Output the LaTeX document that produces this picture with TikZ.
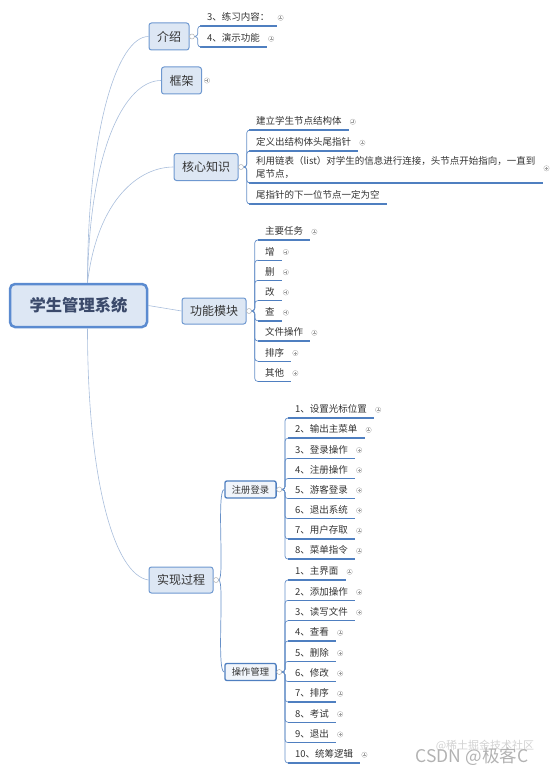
\documentclass[tikz,border=0pt]{standalone}
\usepackage{fontspec}
\newfontfamily\cjk{Noto Sans CJK SC}
\usetikzlibrary{positioning}

\definecolor{boxFill}{HTML}{DDE7F4}
\definecolor{subFill}{HTML}{F1F5FB}
\definecolor{rootEdge}{HTML}{5B8BD0}
\definecolor{topicEdge}{HTML}{6E98D0}
\definecolor{subEdge}{HTML}{4F7FC0}
\definecolor{rootText}{HTML}{3B4A6B}
\definecolor{inkGray}{HTML}{333333}
\definecolor{linkBlue}{HTML}{A9BEDC}
\definecolor{branchBlue}{HTML}{6790C8}
\definecolor{underBlue}{HTML}{4F7FC0}

\begin{document}
\begin{tikzpicture}
[x=1pt,y=-1pt,
  rootBox/.style={draw=rootEdge,line width=2.5pt,fill=boxFill,rounded corners=5pt,
    minimum width=137pt,minimum height=43pt,text=rootText,
    font=\cjk\fontsize{16.3}{18}\selectfont\bfseries},
  topicBox/.style={draw=topicEdge,line width=1pt,fill=boxFill,rounded corners=2.5pt,
    inner xsep=8pt,minimum height=27pt,text=inkGray,font=\cjk\fontsize{12}{14}\selectfont},
  subBox/.style={draw=subEdge,line width=1.3pt,fill=subFill,rounded corners=2pt,
    inner xsep=7pt,minimum height=17pt,text=inkGray,font=\cjk\fontsize{9.3}{11}\selectfont},
  leafText/.style={anchor=south west,inner xsep=7pt,inner ysep=3pt,text height=8pt,
    text depth=2pt,text=inkGray,font=\cjk\fontsize{9.5}{13}\selectfont},
  knob/.style={circle,draw=gray!60,fill=white,line width=.5pt,inner sep=0pt,minimum size=5pt},
  plusIcon/.style={circle,draw=gray!55,line width=.4pt,inner sep=0pt,minimum size=5.5pt,
    path picture={\draw[gray!75,line width=.35pt]
      ([xshift=-1.5pt]path picture bounding box.center) -- ([xshift=1.5pt]path picture bounding box.center)
      ([yshift=-1.5pt]path picture bounding box.center) -- ([yshift=1.5pt]path picture bounding box.center);}},
  linkLine/.style={draw=linkBlue,line width=.6pt},
  branchLine/.style={draw=branchBlue,line width=.7pt,rounded corners=3pt},
  underLine/.style={draw=underBlue,line width=1.4pt}]
\useasboundingbox (0,0) rectangle (554,773);

%% main topics
\node[rootBox] (root) at (78.5,305.5) {学生管理系统};
\node[topicBox] (intro) at (169,36.5) {介绍};
\node[topicBox] (frame) at (181.5,80.5) {框架};
\node[topicBox] (core) at (206,167) {核心知识};
\node[topicBox,minimum height=26pt] (func) at (214,311) {功能模块};
\node[topicBox,minimum height=26pt] (impl) at (181,580) {实现过程};
\node[subBox] (reg) at (250.5,489.5) {注册登录};
\node[subBox] (op) at (250.5,672) {操作管理};
\node[plusIcon,right=2pt of frame] (frameP) {};

%% knobs
\foreach \parent in {intro,core,func,impl,reg,op}
  \node[knob] (\parent K) at ([xshift=2.5pt]\parent.east) {};

%% links from the root
\coordinate (hubUp) at ([xshift=9pt]root.north);
\coordinate (hubDown) at ([xshift=9pt]root.south);
\draw[linkLine] (hubUp) .. controls +(0,-154) and +(-31,0) .. (intro.west);
\draw[linkLine] (hubUp) .. controls +(2,-134) and +(-36,0) .. (frame.west);
\draw[linkLine] (hubUp) .. controls +(10,-84) and +(-34,0) .. (core.west);
\draw[linkLine] (root.east) -- (func.west);
\draw[linkLine] (hubDown) .. controls +(0,153) and +(-34,-5) .. (impl.west);
\draw[branchLine] (implK.east) .. controls +(6,0) and +(-8,0) .. (reg.west);
\draw[branchLine] (implK.east) .. controls +(6,0) and +(-8,0) .. (op.west);

%% leaves of 介绍
\foreach \name/\txt/\y in {intro1/3、练习内容：/26, intro2/4、演示功能/47}
{
  \node[leafText] (\name) at (200,\y) {\txt};
  \node[plusIcon,right=1pt of \name] {};
  \draw[underLine] (\name.south west) -- (\name.south east);
  \draw[branchLine] (introK.east) -- ++(3,0) |- (\name.south west);
}

%% leaves of 核心知识
\node[leafText] (core1) at (249,130) {建立学生节点结构体};
\node[leafText] (core2) at (249,151) {定义出结构体头尾指针};
\node[leafText,align=left,text height=21pt] (core3) at (249,183)
  {利用链表（list）对学生的信息进行连接，头节点开始指向，一直到\\尾节点，};
\node[leafText] (core4) at (249,204) {尾指针的下一位节点一定为空};
\foreach \name in {core1,core2,core3}
  \node[plusIcon,right=1pt of \name] {};
\foreach \name in {core1,core2,core3,core4}
{
  \draw[underLine] (\name.south west) -- (\name.south east);
  \draw[branchLine] (coreK.east) -- ++(3,0) |- (\name.south west);
}

%% leaves of 功能模块
\foreach \txt [count=\i] in {主要任务,增,删,改,查,文件操作,排序,其他}
{
  \node[leafText] (func\i) at (258,{240+20.2*(\i-1)}) {\txt};
  \node[plusIcon,right=1pt of func\i] {};
  \draw[underLine] (func\i.south west) -- (func\i.south east);
  \draw[branchLine] (funcK.east) -- ++(3,0) |- (func\i.south west);
}

%% leaves of 注册登录
\foreach \txt [count=\i] in {1、设置光标位置,2、输出主菜单,3、登录操作,4、注册操作,
  5、游客登录,6、退出系统,7、用户存取,8、菜单指令}
{
  \node[leafText] (reg\i) at (288,{418+20.15*(\i-1)}) {\txt};
  \node[plusIcon,right=1pt of reg\i] {};
  \draw[underLine] (reg\i.south west) -- (reg\i.south east);
  \draw[branchLine] (regK.east) -- ++(3,0) |- (reg\i.south west);
}

%% leaves of 操作管理
\foreach \txt [count=\i] in {1、主界面,2、添加操作,3、读写文件,4、查看,5、删除,
  6、修改,7、排序,8、考试,9、退出,10、统筹逻辑}
{
  \node[leafText] (op\i) at (288,{580+20.33*(\i-1)}) {\txt};
  \node[plusIcon,right=1pt of op\i] {};
  \draw[underLine] (op\i.south west) -- (op\i.south east);
  \draw[branchLine] (opK.east) -- ++(3,0) |- (op\i.south west);
}

%% watermark
\node[text=gray!35,font=\cjk\fontsize{11}{12}\selectfont] (markTop) at (485,746) {@稀土掘金技术社区};
\node[text=gray!60,font=\cjk\fontsize{17.5}{18}\selectfont] (mark) at (472,757) {CSDN @极客C};
\end{tikzpicture}
\end{document}
